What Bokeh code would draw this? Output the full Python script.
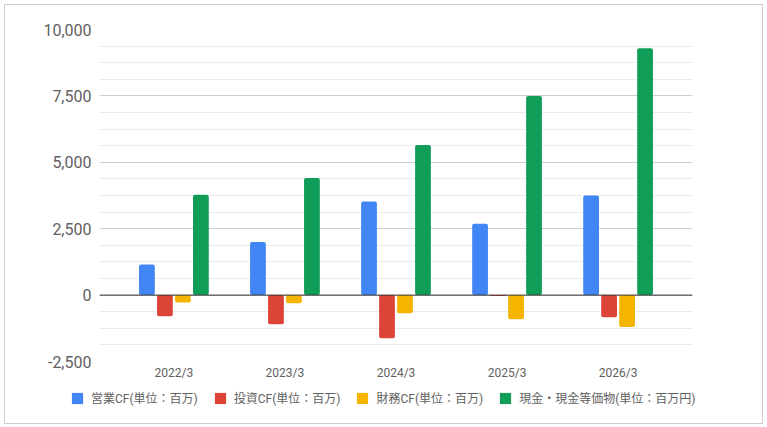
from bokeh.plotting import figure
from bokeh.layouts import column
from bokeh.models import ColumnDataSource, FixedTicker, Span, Legend, LegendItem, NumeralTickFormatter, FactorRange, Range1d
from bokeh.transform import dodge
from bokeh.embed import file_html
from bokeh.resources import INLINE

categories = ["2022/3", "2023/3", "2024/3", "2025/3", "2026/3"]
operating_cf = [1150, 2000, 3520, 2690, 3750]
investing_cf = [-800, -1100, -1620, -30, -830]
financing_cf = [-280, -310, -680, -910, -1200]
cash_eq = [3780, 4410, 5650, 7500, 9290]

series_names = ["営業CF(単位：百万)", "投資CF(単位：百万)", "財務CF(単位：百万)", "現金・現金等価物(単位：百万円)"]
colors = ["#4285F4", "#DB4437", "#F4B400", "#0F9D58"]
y_ticks = [-2500, 0, 2500, 5000, 7500, 10000]

FONT = "Roboto, 'Noto Sans CJK JP', sans-serif"
TEXT_COLOR = "#616161"

src = ColumnDataSource(dict(cat=categories, op=operating_cf, inv=investing_cf, fin=financing_cf, cash=cash_eq))

p = figure(width=757, height=384, output_backend="svg", toolbar_location=None,
           x_range=FactorRange(factors=categories, range_padding=0.068, range_padding_units="percent"),
           y_range=(-2500, 10000),
           min_border_left=94, min_border_right=70, min_border_top=24, min_border_bottom=28)
p.outline_line_color = None
p.frame_align = False

offsets = [-0.243, -0.081, 0.081, 0.243]
fields = ["op", "inv", "fin", "cash"]
for f, off, c in zip(fields, offsets, colors):
    p.vbar(x=dodge("cat", off, range=p.x_range), top=f, bottom=0, width=0.142, source=src,
           fill_color=c, line_color=None, border_radius=2)

minor = [-2500 + 625 * i for i in range(21)]
p.yaxis.ticker = FixedTicker(ticks=y_ticks, minor_ticks=minor)
p.yaxis.formatter = NumeralTickFormatter(format="0,0")
p.yaxis.axis_line_color = None
p.yaxis.major_tick_line_color = None
p.yaxis.minor_tick_line_color = None
p.yaxis.major_tick_out = 0
p.yaxis.minor_tick_out = 0
p.yaxis.major_label_text_font = FONT
p.yaxis.major_label_text_font_size = "16px"
p.yaxis.major_label_text_color = TEXT_COLOR
p.yaxis.major_label_standoff = 8

p.xaxis.axis_line_color = None
p.xaxis.major_tick_line_color = None
p.xaxis.minor_tick_line_color = None
p.xaxis.major_tick_out = 0
p.xaxis.minor_tick_out = 0
p.xaxis.major_label_text_font = FONT
p.xaxis.major_label_text_font_size = "12px"
p.xaxis.major_label_text_color = TEXT_COLOR
p.xaxis.major_label_standoff = 4

p.xgrid.grid_line_color = None
p.ygrid.grid_line_color = "#cccccc"
p.ygrid.minor_grid_line_color = "#ebebeb"

p.add_layout(Span(location=0, dimension="width", line_color="#333333", line_width=1))

# legend strip below the chart
q = figure(width=757, height=34, output_backend="svg", toolbar_location=None,
           x_range=Range1d(0, 1), y_range=Range1d(0, 1),
           x_axis_location=None, y_axis_location=None,
           min_border_left=0, min_border_right=0, min_border_top=0, min_border_bottom=0)
q.outline_line_color = None
q.frame_align = False
q.xgrid.grid_line_color = None
q.ygrid.grid_line_color = None
items = []
for n, c in zip(series_names, colors):
    r = q.vbar(x=[0], top=[0], bottom=[0], width=0, fill_color=c, line_color=None)
    items.append(LegendItem(label=n, renderers=[r]))

legend = Legend(items=items, orientation="horizontal", location=(65, 17),
                label_text_font=FONT, label_text_font_size="12px", label_text_color=TEXT_COLOR,
                glyph_width=14, glyph_height=14, label_standoff=7, spacing=15,
                padding=0, margin=0, border_line_color=None, background_fill_alpha=0)
q.add_layout(legend, "center")

layout = column(p, q, spacing=0, styles={"border": "1px solid #cccccc", "margin": "4px 0 0 4px"})

open("out.html", "w").write(file_html(layout, INLINE))
